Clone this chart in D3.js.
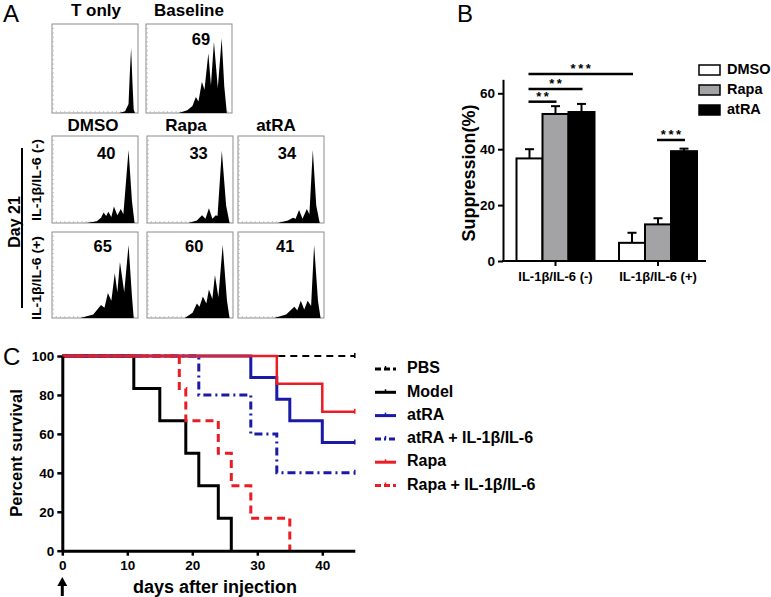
<!DOCTYPE html>
<html>
<head>
<meta charset="utf-8">
<script src="https://cdn.jsdelivr.net/npm/d3@7"></script>
<style>
body { margin: 0; background: #fff; }
svg text { font-family: "Liberation Sans", Arial, sans-serif; fill: #000; }
</style>
</head>
<body>
<div id="chart"></div>
<script>
// ---------- Panel A: CFSE histograms, [relative position, relative height]
var hTOnly    = [[0.78,0],[0.85,0.02],[0.89,0.1],[0.905,0.45],[0.92,0.73],[0.935,0.35],[0.95,0.04],[0.965,0]];
var hBaseline = [[0.38,0],[0.48,0.03],[0.54,0.08],[0.58,0.18],[0.61,0.13],[0.65,0.35],[0.68,0.26],[0.725,0.67],[0.755,0.31],[0.79,0.80],[0.835,0.28],[0.88,0.84],[0.91,0.3],[0.94,0]];
var hDmsoNeg  = [[0.40,0],[0.52,0.02],[0.57,0.06],[0.60,0.12],[0.63,0.08],[0.655,0.13],[0.69,0.07],[0.72,0.19],[0.76,0.09],[0.80,0.16],[0.83,0.1],[0.89,0.84],[0.93,0.25],[0.96,0]];
var hRapaNeg  = [[0.48,0],[0.58,0.03],[0.64,0.09],[0.68,0.05],[0.72,0.17],[0.76,0.05],[0.80,0.09],[0.82,0.08],[0.87,0.83],[0.92,0.2],[0.96,0]];
var hAtraNeg  = [[0.46,0],[0.58,0.03],[0.64,0.06],[0.67,0.05],[0.71,0.15],[0.75,0.05],[0.80,0.16],[0.83,0.1],[0.87,0.84],[0.91,0.2],[0.95,0]];
var hDmsoPos  = [[0.33,0],[0.48,0.04],[0.57,0.15],[0.61,0.12],[0.65,0.29],[0.69,0.2],[0.73,0.52],[0.76,0.3],[0.79,0.65],[0.84,0.3],[0.89,0.85],[0.93,0.25],[0.95,0]];
var hRapaPos  = [[0.44,0],[0.53,0.06],[0.58,0.17],[0.61,0.13],[0.65,0.25],[0.69,0.17],[0.72,0.33],[0.76,0.22],[0.79,0.50],[0.83,0.24],[0.88,0.85],[0.93,0.2],[0.96,0]];
var hAtraPos  = [[0.42,0],[0.56,0.04],[0.655,0.13],[0.69,0.09],[0.73,0.2],[0.77,0.1],[0.81,0.2],[0.85,0.14],[0.885,0.85],[0.93,0.2],[0.96,0]];
var histLabels = ["", "69", "40", "33", "34", "65", "60", "41"];

// ---------- Panel B: suppression (%)
var groupsB = ["IL-1\u03b2/IL-6 (-)", "IL-1\u03b2/IL-6 (+)"];
var treatments = ["DMSO", "Rapa", "atRA"];
var suppMean = [[36.7, 52.6, 53.3], [6.5, 13.1, 39.3]];
var suppErr  = [[3.3, 2.8, 2.9], [3.6, 2.2, 0.9]];
var yTicksB = [0, 20, 40, 60];
// significance: [group, treatment] -> [group, treatment], bar level, stars
var sigFrom  = [[0, 0], [0, 0], [0, 0], [1, 1]];
var sigTo    = [[1, 0], [0, 2], [0, 1], [1, 2]];
var sigLevel = [66.9, 61.5, 57.0, 43.3];
var sigText  = ["***", "**", "**", "***"];

// ---------- Panel C: survival
var seriesNames = ["PBS", "Model", "atRA", "atRA + IL-1\u03b2/IL-6", "Rapa", "Rapa + IL-1\u03b2/IL-6"];
var pbsDays  = [0, 45],                     pbsSurv  = [100, 100];
var modelDays = [0, 11, 15, 19, 21, 24, 26], modelSurv = [100, 83.3, 66.7, 50, 33.3, 16.7, 0];
var atraDays = [0, 29, 33, 35, 40, 45],     atraSurv = [100, 88.9, 77.8, 66.7, 55.6, 55.6];
var atraIlDays = [0, 21, 29, 33, 45],       atraIlSurv = [100, 80, 60, 40, 40];
var rapaDays = [0, 33, 40, 45],             rapaSurv = [100, 85.7, 71.4, 71.4];
var rapaIlDays = [0, 18, 19, 24, 26, 29, 35], rapaIlSurv = [100, 83.3, 66.7, 50, 33.3, 16.7, 0];
var xTicksC = [0, 10, 20, 30, 40];
var yTicksC = [0, 20, 40, 60, 80, 100];

var svg = d3.select("#chart").append("svg")
  .attr("width", 771)
  .attr("height", 597);

var bold = function(sel, size) {
  return sel.style("font-weight", "bold").style("font-size", size + "px");
};

// ================= Panel A =================
svg.append("text").attr("x", 3).attr("y", 22).style("font-size", "24px").text("A");
svg.append("text").attr("x", 3).attr("y", 365).style("font-size", "24px").text("C");
svg.append("text").attr("x", 457).attr("y", 22).style("font-size", "24px").text("B");

var cells = [
  {h: hTOnly,    x: 52,  y: 24,  hh: 89},
  {h: hBaseline, x: 146, y: 24,  hh: 89, lx: 0.64, ly: 0.19},
  {h: hDmsoNeg,  x: 52,  y: 136, hh: 87, lx: 0.63, ly: 0.21},
  {h: hRapaNeg,  x: 147, y: 136, hh: 87, lx: 0.60, ly: 0.21},
  {h: hAtraNeg,  x: 238, y: 136, hh: 87, lx: 0.57, ly: 0.21},
  {h: hDmsoPos,  x: 52,  y: 232, hh: 86, lx: 0.59, ly: 0.18},
  {h: hRapaPos,  x: 147, y: 232, hh: 86, lx: 0.55, ly: 0.18},
  {h: hAtraPos,  x: 238, y: 232, hh: 86, lx: 0.55, ly: 0.18}
];

cells.forEach(function(c, i) {
  var w = 86;
  var sx = d3.scaleLinear().domain([0, 1]).range([c.x, c.x + w]);
  var sy = d3.scaleLinear().domain([0, 1]).range([c.y + c.hh, c.y]);
  var g = svg.append("g");
  g.append("rect")
    .attr("x", c.x).attr("y", c.y).attr("width", w).attr("height", c.hh)
    .attr("fill", "none").attr("stroke", "#8c8c8c").attr("stroke-width", 1);
  // faint minor ticks along left and bottom edges
  d3.range(0.05, 1, 0.05).forEach(function(t) {
    g.append("line").attr("x1", sx(t)).attr("x2", sx(t))
      .attr("y1", c.y + c.hh).attr("y2", c.y + c.hh - 2)
      .attr("stroke", "#b5b5b5").attr("stroke-width", 0.8);
    g.append("line").attr("x1", c.x).attr("x2", c.x + 2)
      .attr("y1", sy(t)).attr("y2", sy(t))
      .attr("stroke", "#b5b5b5").attr("stroke-width", 0.8);
  });
  var area = d3.area()
    .x(function(d) { return sx(d[0]); })
    .y0(sy(0))
    .y1(function(d) { return sy(d[1]); });
  g.append("path").datum(c.h).attr("d", area).attr("fill", "#000");
  if (histLabels[i]) {
    bold(g.append("text"), 16.5)
      .attr("x", sx(c.lx)).attr("y", sy(1 - c.ly))
      .attr("text-anchor", "middle").attr("dominant-baseline", "middle")
      .text(histLabels[i]);
  }
});

var colTitles = [["T only", 96, 16], ["Baseline", 189, 16], ["DMSO", 93, 131], ["Rapa", 186, 131], ["atRA", 276, 131]];
colTitles.forEach(function(t) {
  bold(svg.append("text"), 17).attr("x", t[1]).attr("y", t[2])
    .attr("text-anchor", "middle").text(t[0]);
});

svg.append("line").attr("x1", 22).attr("x2", 22).attr("y1", 148).attr("y2", 308)
  .attr("stroke", "#000").attr("stroke-width", 2);
bold(svg.append("text"), 16)
  .attr("transform", "translate(16,222) rotate(-90)")
  .attr("text-anchor", "middle").attr("dominant-baseline", "middle").text("Day 21");
bold(svg.append("text"), 12)
  .attr("transform", "translate(38,180) rotate(-90)")
  .attr("text-anchor", "middle").attr("dominant-baseline", "middle")
  .attr("textLength", 82).attr("lengthAdjust", "spacingAndGlyphs")
  .text("IL-1\u03b2/IL-6 (-)");
bold(svg.append("text"), 12)
  .attr("transform", "translate(38,278) rotate(-90)")
  .attr("text-anchor", "middle").attr("dominant-baseline", "middle")
  .attr("textLength", 84).attr("lengthAdjust", "spacingAndGlyphs")
  .text("IL-1\u03b2/IL-6 (+)");

// ================= Panel B =================
var yB = d3.scaleLinear().domain([0, 65]).range([261, 261 - 65 * 2.795]);
var xB = d3.scalePoint().domain(groupsB).range([555.5, 658]);
var xSub = d3.scaleBand().domain(treatments).range([-39, 39]);
var fills = {DMSO: "#ffffff", Rapa: "#a3a3a6", atRA: "#000000"};

var gB = svg.append("g");
var yAxisB = gB.append("g").attr("transform", "translate(503,0)")
  .call(d3.axisLeft(yB).tickValues(yTicksB).tickSize(5).tickSizeOuter(0));
yAxisB.select(".domain").attr("stroke-width", 2);
yAxisB.selectAll(".tick line").attr("stroke-width", 2);
yAxisB.selectAll(".tick text").style("font-weight", "bold").style("font-size", "13.5px")
  .style("font-family", "Liberation Sans, Arial, sans-serif").attr("x", -8);

gB.append("line").attr("x1", 502).attr("x2", 706).attr("y1", 261).attr("y2", 261)
  .attr("stroke", "#000").attr("stroke-width", 2);
groupsB.forEach(function(gname) {
  gB.append("line").attr("x1", xB(gname)).attr("x2", xB(gname)).attr("y1", 261).attr("y2", 266)
    .attr("stroke", "#000").attr("stroke-width", 2);
  bold(gB.append("text"), 13).attr("x", xB(gname)).attr("y", 281)
    .attr("text-anchor", "middle").text(gname);
});

groupsB.forEach(function(gname, gi) {
  treatments.forEach(function(t, ti) {
    var cx = xB(gname) + xSub(t) + xSub.bandwidth() / 2;
    var top = yB(suppMean[gi][ti]);
    var etop = yB(suppMean[gi][ti] + suppErr[gi][ti]);
    gB.append("line").attr("x1", cx).attr("x2", cx).attr("y1", top).attr("y2", etop)
      .attr("stroke", "#000").attr("stroke-width", 2);
    gB.append("line").attr("x1", cx - 4.5).attr("x2", cx + 4.5).attr("y1", etop).attr("y2", etop)
      .attr("stroke", "#000").attr("stroke-width", 2);
    gB.append("rect")
      .attr("x", xB(gname) + xSub(t)).attr("y", top)
      .attr("width", xSub.bandwidth()).attr("height", yB(0) - top)
      .attr("fill", fills[t]).attr("stroke", "#000").attr("stroke-width", 2);
  });
});

var barCenter = function(p) {
  return xB(groupsB[p[0]]) + xSub(treatments[p[1]]) + xSub.bandwidth() / 2;
};
sigText.forEach(function(s, i) {
  var x1 = barCenter(sigFrom[i]), x2 = barCenter(sigTo[i]), y = yB(sigLevel[i]);
  gB.append("line").attr("x1", x1 - 1).attr("x2", x2 + 1).attr("y1", y).attr("y2", y)
    .attr("stroke", "#000").attr("stroke-width", 2.5);
  bold(gB.append("text"), 13).attr("x", (x1 + x2) / 2).attr("y", y - 1)
    .attr("text-anchor", "middle").text(s.split("").join("\u2009"));
});

bold(gB.append("text"), 18)
  .attr("transform", "translate(470,173) rotate(-90)")
  .attr("text-anchor", "middle").attr("dominant-baseline", "middle")
  .text("Suppression(%)");

treatments.forEach(function(t, i) {
  gB.append("rect").attr("x", 699).attr("y", 65 + i * 20).attr("width", 21).attr("height", 10)
    .attr("fill", fills[t]).attr("stroke", "#000").attr("stroke-width", 1.5);
  bold(gB.append("text"), 14.5).attr("x", 727).attr("y", 70 + i * 20)
    .attr("dominant-baseline", "middle").text(t);
});

// ================= Panel C =================
var xC = d3.scaleLinear().domain([0, 45]).range([62.3, 354.8]);
var yC = d3.scaleLinear().domain([0, 100]).range([550.7, 356]);
var gC = svg.append("g");

var red = "#ec1c24", blue = "#1a1aa6";
// styles in the same order as seriesNames
var styles = [
  {days: pbsDays,    surv: pbsSurv,    color: "#000", dash: "7,5",     w: 2},
  {days: modelDays,  surv: modelSurv,  color: "#000", dash: null,      w: 3},
  {days: atraDays,   surv: atraSurv,   color: blue,   dash: null,      w: 3},
  {days: atraIlDays, surv: atraIlSurv, color: blue,   dash: "8,4,2,4", w: 3},
  {days: rapaDays,   surv: rapaSurv,   color: red,    dash: null,      w: 2.5},
  {days: rapaIlDays, surv: rapaIlSurv, color: red,    dash: "8,5",     w: 3}
];
// drawing order, red solid last so it sits on top at 100 %
var drawOrder = [0, 1, 3, 2, 5, 4];

var stepLine = d3.line()
  .x(function(d) { return xC(d[0]); })
  .y(function(d) { return yC(d[1]); })
  .curve(d3.curveStepAfter);

drawOrder.forEach(function(si) {
  var s = styles[si];
  var pts = s.days.map(function(d, i) { return [d, s.surv[i]]; });
  gC.append("path").datum(pts).attr("d", stepLine)
    .attr("fill", "none").attr("stroke", s.color).attr("stroke-width", s.w)
    .attr("stroke-dasharray", s.dash);
  var last = pts[pts.length - 1];
  if (last[1] > 0) {
    gC.append("line").attr("x1", xC(last[0])).attr("x2", xC(last[0]))
      .attr("y1", yC(last[1]) - 3).attr("y2", yC(last[1]) + 2)
      .attr("stroke", s.color).attr("stroke-width", 1.5);
  }
});

var yAxisC = gC.append("g").attr("transform", "translate(62.3,0)")
  .call(d3.axisLeft(yC).tickValues(yTicksC).tickSize(5).tickSizeOuter(0));
var xAxisC = gC.append("g").attr("transform", "translate(0,550.7)")
  .call(d3.axisBottom(xC).tickValues(xTicksC).tickSize(5).tickSizeOuter(0));
[yAxisC, xAxisC].forEach(function(a) {
  a.select(".domain").attr("stroke-width", 3);
  a.selectAll(".tick line").attr("stroke-width", 2.5);
  a.selectAll(".tick text").style("font-weight", "bold").style("font-size", "13.5px")
    .style("font-family", "Liberation Sans, Arial, sans-serif");
});
yAxisC.selectAll(".tick text").attr("x", -8);
xAxisC.selectAll(".tick text").attr("y", 10);

bold(gC.append("text"), 16.5)
  .attr("transform", "translate(18,453) rotate(-90)")
  .attr("text-anchor", "middle").attr("dominant-baseline", "middle")
  .text("Percent survival");
bold(gC.append("text"), 18).attr("x", 215).attr("y", 593)
  .attr("text-anchor", "middle").text("days after injection");

// arrow at day 0
gC.append("line").attr("x1", xC(0)).attr("x2", xC(0)).attr("y1", 596).attr("y2", 584)
  .attr("stroke", "#000").attr("stroke-width", 3);
gC.append("path")
  .attr("d", "M" + xC(0) + ",577 l-5,9 l10,0 z").attr("fill", "#000");

styles.forEach(function(s, i) {
  var y = 369 + i * 23.3;
  gC.append("line").attr("x1", 375).attr("x2", 396).attr("y1", y).attr("y2", y)
    .attr("stroke", s.color).attr("stroke-width", 3)
    .attr("stroke-dasharray", s.dash ? (i === 3 ? "6,3,2,3" : "6,3") : null);
  gC.append("line").attr("x1", 385.5).attr("x2", 385.5).attr("y1", y - 3).attr("y2", y)
    .attr("stroke", s.color).attr("stroke-width", 1.5);
  bold(gC.append("text"), 16).attr("x", 407).attr("y", y)
    .attr("dominant-baseline", "middle").text(seriesNames[i]);
});
</script>
</body>
</html>
